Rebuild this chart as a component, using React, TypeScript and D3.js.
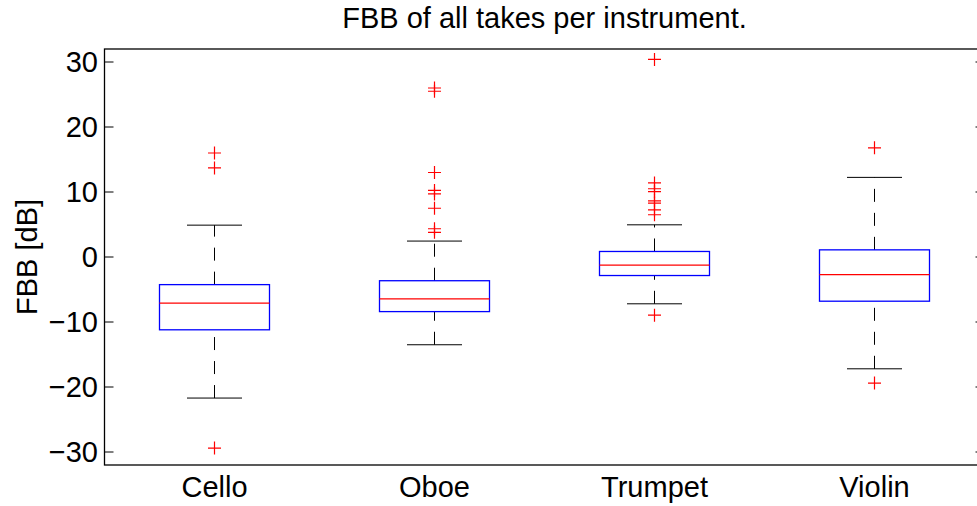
import React from "react";
import * as d3 from "d3";

// Per-instrument box statistics (dB)
const instruments = ["Cello", "Oboe", "Trumpet", "Violin"];
const lowerWhisker = [-21.7, -13.5, -7.2, -17.2];
const q1 = [-11.2, -8.4, -2.85, -6.8];
const median = [-7.1, -6.45, -1.25, -2.7];
const q3 = [-4.25, -3.65, 0.85, 1.1];
const upperWhisker = [4.9, 2.45, 4.95, 12.25];
const outliers: number[][] = [
  [16.0, 13.7, -29.4],
  [26.0, 25.5, 13.0, 10.25, 9.7, 7.5, 4.35, 3.8],
  [30.4, 11.4, 10.5, 10.05, 8.65, 8.3, 7.25, 6.5, -8.95],
  [16.8, -19.4],
];
const yTicks = [-30, -20, -10, 0, 10, 20, 30];

const W = 977;
const H = 506;
const FONT = "'Liberation Sans', Arial, Helvetica, sans-serif";
const FS = 29;

export default function App() {
  const left = 104.5;
  const right = 984.5;
  const top = 49;
  const bottom = 465;
  const x = d3.scaleLinear().domain([0.5, 4.5]).range([left, right]);
  const y = d3.scaleLinear().domain([-32, 32]).range([bottom, top]);
  const boxHalf = 0.25;
  const capHalf = 0.125;
  const tickLen = 9;
  const plus = 6.5;

  return (
    <svg
      width={W}
      height={H}
      style={{ position: "absolute", left: 0, top: 0, background: "#fff" }}
      fontFamily={FONT}
    >
      <rect x={0} y={0} width={W} height={H} fill="#fff" />
      <text x={(left + right) / 2} y={28} fontSize={FS} textAnchor="middle" fill="#000">
        FBB of all takes per instrument.
      </text>

      {/* axes frame */}
      <rect x={left} y={top} width={right - left} height={bottom - top} fill="none" stroke="#000" strokeWidth={1.3} />

      {yTicks.map((t) => (
        <g key={t}>
          <line x1={left} x2={left + tickLen} y1={y(t)} y2={y(t)} stroke="#000" strokeWidth={1} />
          <line x1={right} x2={right - tickLen} y1={y(t)} y2={y(t)} stroke="#000" strokeWidth={1} />
          <text x={98} y={y(t)} dy="0.36em" fontSize={FS} textAnchor="end" fill="#000">
            {t < 0 ? "\u2212" + Math.abs(t) : String(t)}
          </text>
        </g>
      ))}

      <text
        transform={`translate(36.5, ${(top + bottom) / 2}) rotate(-90)`}
        fontSize={FS}
        textAnchor="middle"
        fill="#000"
      >
        FBB [dB]
      </text>

      {instruments.map((name, i) => {
        const c = i + 1;
        return (
          <g key={name}>
            {/* whiskers, drawn from low end upward */}
            <line x1={x(c)} x2={x(c)} y1={y(lowerWhisker[i])} y2={y(q1[i])} stroke="#000" strokeDasharray="13,11" />
            <line x1={x(c)} x2={x(c)} y1={y(q3[i])} y2={y(upperWhisker[i])} stroke="#000" strokeDasharray="13,11" />
            <line x1={x(c - capHalf)} x2={x(c + capHalf)} y1={y(lowerWhisker[i])} y2={y(lowerWhisker[i])} stroke="#000" />
            <line x1={x(c - capHalf)} x2={x(c + capHalf)} y1={y(upperWhisker[i])} y2={y(upperWhisker[i])} stroke="#000" />
            <rect
              x={x(c - boxHalf)}
              y={y(q3[i])}
              width={x(c + boxHalf) - x(c - boxHalf)}
              height={y(q1[i]) - y(q3[i])}
              fill="none"
              stroke="#0000ff"
              strokeWidth={1.3}
            />
            <line x1={x(c - boxHalf)} x2={x(c + boxHalf)} y1={y(median[i])} y2={y(median[i])} stroke="#ff0000" strokeWidth={1.2} />
            {outliers[i].map((v, k) => (
              <path
                key={k}
                d={`M${x(c) - plus},${y(v)}H${x(c) + plus}M${x(c)},${y(v) - plus}V${y(v) + plus}`}
                stroke="#ff0000"
                strokeWidth={1.2}
                fill="none"
              />
            ))}
            <text x={x(c)} y={497} fontSize={FS} textAnchor="middle" fill="#000">
              {name}
            </text>
          </g>
        );
      })}
    </svg>
  );
}
